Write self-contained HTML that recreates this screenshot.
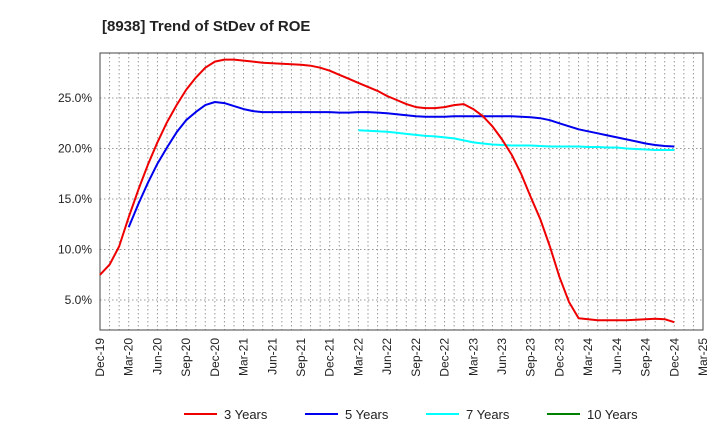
<!DOCTYPE html>
<html><head><meta charset="utf-8"><style>
body{margin:0;background:#fff;font-family:"Liberation Sans",sans-serif}
svg text{font-family:"Liberation Sans",sans-serif}
</style></head><body>
<svg id="c" width="720" height="440"></svg>
<script>
const xLabels=["Dec-19","Mar-20","Jun-20","Sep-20","Dec-20","Mar-21","Jun-21","Sep-21","Dec-21","Mar-22","Jun-22","Sep-22","Dec-22","Mar-23","Jun-23","Sep-23","Dec-23","Mar-24","Jun-24","Sep-24","Dec-24","Mar-25"];
const yTicks=[5,10,15,20,25];
const s3start=0;
const s3=[7.5,8.5,10.3,13.2,15.9,18.4,20.6,22.6,24.3,25.8,27.0,28.0,28.6,28.8,28.8,28.7,28.6,28.5,28.45,28.4,28.35,28.3,28.2,28.0,27.7,27.3,26.9,26.5,26.1,25.7,25.2,24.8,24.4,24.1,24.0,24.0,24.1,24.3,24.4,23.9,23.2,22.2,20.9,19.4,17.5,15.2,13.0,10.3,7.3,4.8,3.2,3.1,3.0,3.0,3.0,3.0,3.05,3.1,3.15,3.1,2.8];
const s5start=3;
const s5=[12.2,14.5,16.6,18.5,20.1,21.6,22.8,23.6,24.3,24.6,24.5,24.2,23.9,23.7,23.6,23.6,23.6,23.6,23.6,23.6,23.6,23.6,23.55,23.55,23.6,23.6,23.55,23.5,23.4,23.3,23.2,23.15,23.15,23.15,23.2,23.2,23.2,23.2,23.2,23.2,23.2,23.15,23.1,23.0,22.8,22.5,22.2,21.9,21.7,21.5,21.3,21.1,20.9,20.7,20.5,20.35,20.25,20.2];
const s7start=27;
const s7=[21.8,21.75,21.7,21.65,21.55,21.45,21.35,21.25,21.2,21.1,21.0,20.8,20.6,20.5,20.4,20.35,20.3,20.3,20.3,20.25,20.2,20.2,20.2,20.2,20.15,20.15,20.1,20.1,20.0,19.95,19.9,19.85,19.85,19.85];
const L=100,R=703,T=53,B=330;
const xs=i=>L+i*(R-L)/63;
const ys=v=>350.5-v*10.1;
const svg=document.getElementById('c');const NS='http://www.w3.org/2000/svg';
function mk(t,a,p){const e=document.createElementNS(NS,t);for(const k in a)e.setAttribute(k,a[k]);(p||svg).appendChild(e);return e;}
let e=mk('text',{x:102,y:31,'font-size':15,'font-weight':'bold',fill:'#222'});e.textContent='[8938]  Trend of StDev of ROE';


for(let i=1;i<63;i++){e=mk('line',{x1:xs(i),x2:xs(i),y1:T,y2:B,stroke:'#999','stroke-dasharray':'1.5,2.5'});

}
yTicks.forEach(v=>{e=mk('line',{x1:L,x2:R,y1:ys(v),y2:ys(v),stroke:'#999','stroke-dasharray':'1.5,2.5'});


e=mk('text',{x:92,y:ys(v)+4,'font-size':12,'text-anchor':'end',fill:'#222'});e.textContent=v.toFixed(1)+'%';

});
e=mk('rect',{x:L,y:T,width:R-L,height:B-T,fill:'none',stroke:'#444'});


xLabels.forEach((t,k)=>{const x=xs(k*3);e=mk('text',{transform:`translate(${x+4},338) rotate(-90)`,'font-size':12,'text-anchor':'end',fill:'#222'});e.textContent=t;

});
function line(arr,st,col,name){const p=arr.map((v,i)=>xs(st+i).toFixed(1)+','+ys(v).toFixed(1)).join(' ');e=mk('polyline',{points:p,fill:'none',stroke:col,'stroke-width':2,'stroke-linejoin':'round'});

}
line(s7,s7start,'#00ffff','series-7-years');
line(s5,s5start,'#0000ee','series-5-years');
line(s3,s3start,'#ee0000','series-3-years');
const leg=[['3 Years','#ee0000',184],['5 Years','#0000ee',305],['7 Years','#00ffff',426],['10 Years','#008000',547]];
leg.forEach(([t,c,x])=>{const g=mk('g',{});


mk('line',{x1:x,x2:x+33,y1:414,y2:414,stroke:c,'stroke-width':2},g);const tx=mk('text',{x:x+40,y:419,'font-size':13,fill:'#222'},g);tx.textContent=t;});
</script>
</body></html>
